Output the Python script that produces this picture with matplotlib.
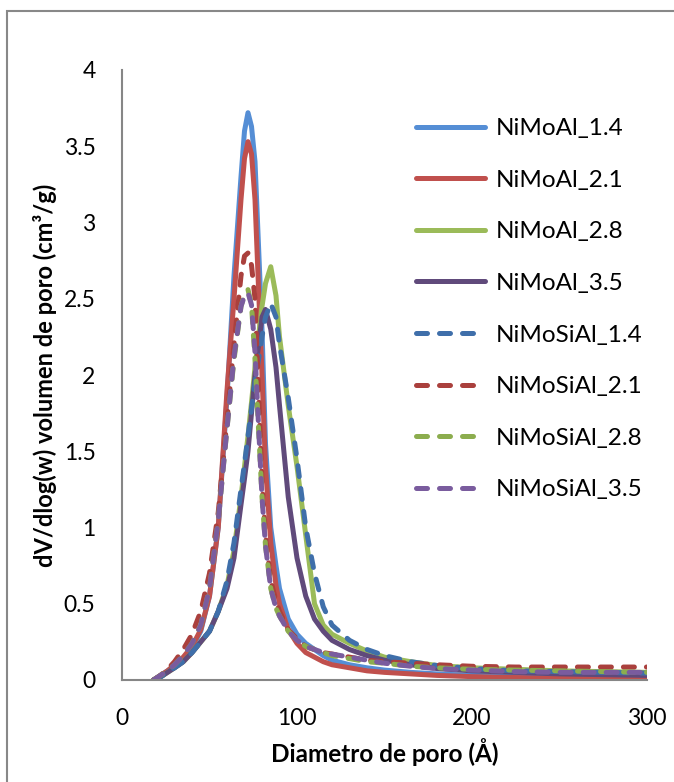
import matplotlib
matplotlib.use("Agg")
import matplotlib.pyplot as plt
from matplotlib.patches import Rectangle

# Diametro de poro (A), shared by all series
diametro = [18, 22, 26, 30, 35, 40, 45, 50, 55, 60, 64, 68, 70, 72, 74, 76, 80, 82, 85, 88, 90, 95,
            100, 105, 110, 115, 120, 130, 140, 150, 165, 180, 200, 225, 250, 275, 300]

nimoal_14 = [0, 0.03, 0.06, 0.09, 0.14, 0.21, 0.32, 0.55, 1.0, 1.85, 2.65, 3.3, 3.6, 3.72, 3.63, 3.4, 2.3, 1.55, 1.0, 0.75, 0.6, 0.4,
             0.3, 0.24, 0.2, 0.16, 0.13, 0.1, 0.08, 0.065, 0.05, 0.04, 0.03, 0.025, 0.02, 0.017, 0.015]
nimoal_21 = [0, 0.03, 0.06, 0.1, 0.15, 0.22, 0.33, 0.55, 1.0, 1.9, 2.5, 3.15, 3.42, 3.53, 3.45, 3.15, 2.0, 1.4, 0.9, 0.62, 0.5, 0.33,
             0.24, 0.18, 0.15, 0.12, 0.1, 0.08, 0.06, 0.05, 0.04, 0.03, 0.022, 0.016, 0.012, 0.01, 0.008]
nimoal_28 = [0, 0.02, 0.05, 0.08, 0.12, 0.18, 0.25, 0.32, 0.45, 0.62, 0.85, 1.2, 1.4, 1.6, 1.82, 2.05, 2.45, 2.6, 2.71, 2.52, 2.25, 1.8,
             1.4, 0.95, 0.5, 0.36, 0.3, 0.24, 0.19, 0.15, 0.12, 0.095, 0.08, 0.07, 0.06, 0.055, 0.05]
nimoal_35 = [0, 0.02, 0.05, 0.08, 0.12, 0.18, 0.25, 0.32, 0.45, 0.6, 0.8, 1.15, 1.32, 1.5, 1.75, 2.0, 2.38, 2.43, 2.3, 2.05, 1.8, 1.2,
             0.8, 0.55, 0.4, 0.32, 0.26, 0.2, 0.16, 0.13, 0.1, 0.075, 0.06, 0.05, 0.04, 0.035, 0.03]
nimosial_14 = [0, 0.02, 0.05, 0.08, 0.12, 0.18, 0.25, 0.32, 0.45, 0.65, 0.9, 1.25, 1.42, 1.6, 1.78, 1.95, 2.25, 2.38, 2.47, 2.38, 2.2, 1.85,
               1.45, 1.0, 0.7, 0.48, 0.36, 0.26, 0.2, 0.16, 0.12, 0.095, 0.075, 0.06, 0.055, 0.05, 0.045]
nimosial_21 = [0, 0.03, 0.07, 0.12, 0.2, 0.3, 0.45, 0.7, 1.1, 1.7, 2.2, 2.65, 2.78, 2.8, 2.72, 2.5, 1.3, 0.95, 0.65, 0.52, 0.45, 0.33,
               0.27, 0.22, 0.2, 0.18, 0.17, 0.15, 0.13, 0.12, 0.11, 0.1, 0.09, 0.085, 0.085, 0.085, 0.085]
nimosial_28 = [0, 0.03, 0.06, 0.1, 0.16, 0.24, 0.36, 0.6, 1.05, 1.65, 2.1, 2.45, 2.53, 2.56, 2.46, 2.1, 1.2, 0.88, 0.6, 0.47, 0.42, 0.32,
               0.26, 0.22, 0.2, 0.18, 0.16, 0.14, 0.12, 0.11, 0.09, 0.08, 0.07, 0.065, 0.06, 0.055, 0.05]
nimosial_35 = [0, 0.03, 0.06, 0.1, 0.16, 0.24, 0.36, 0.6, 1.05, 1.65, 2.12, 2.45, 2.52, 2.54, 2.46, 2.15, 1.2, 0.88, 0.6, 0.47, 0.42, 0.32,
               0.26, 0.22, 0.2, 0.18, 0.17, 0.15, 0.13, 0.11, 0.09, 0.075, 0.065, 0.055, 0.05, 0.05, 0.05]

labels = ["NiMoAl_1.4", "NiMoAl_2.1", "NiMoAl_2.8", "NiMoAl_3.5",
          "NiMoSiAl_1.4", "NiMoSiAl_2.1", "NiMoSiAl_2.8", "NiMoSiAl_3.5"]
series = [nimoal_14, nimoal_21, nimoal_28, nimoal_35,
          nimosial_14, nimosial_21, nimosial_28, nimosial_35]
colors = ["#558ED5", "#C0504D", "#9BBB59", "#604A7B",
          "#3F6FAA", "#AA403D", "#8CAD4E", "#7A5C9E"]
dashed = [False, False, False, False, True, True, True, True]

font = "Lato"
lw = 3.6
axis_gray = "#868686"

fig = plt.figure(figsize=(6.74, 7.82), dpi=100)
ax = fig.add_axes([122 / 674, 102 / 782, 525 / 674, 610 / 782])

for y, lab, c, d in zip(series, labels, colors, dashed):
    if d:
        ax.plot(diametro, y, color=c, lw=lw, label=lab, linestyle=(0, (2.2, 2.4)),
                dash_capstyle="round", dash_joinstyle="round")
    else:
        ax.plot(diametro, y, color=c, lw=lw, label=lab,
                solid_capstyle="round", solid_joinstyle="round")

ax.set_xlim(0, 300)
ax.set_ylim(0, 4)
ax.set_xticks([0, 100, 200, 300])
ax.set_yticks([0, 0.5, 1, 1.5, 2, 2.5, 3, 3.5, 4])
ax.set_yticklabels(["0", "0.5", "1", "1.5", "2", "2.5", "3", "3.5", "4"])
ax.tick_params(length=0, labelsize=16.5)
ax.tick_params(axis="y", pad=19)
ax.tick_params(axis="x", pad=20)
for t in ax.get_xticklabels() + ax.get_yticklabels():
    t.set_fontfamily(font)

for s in ["top", "right"]:
    ax.spines[s].set_visible(False)
for s in ["left", "bottom"]:
    ax.spines[s].set_color(axis_gray)
    ax.spines[s].set_linewidth(1.5)

ax.set_xlabel("Diametro de poro (Å)", fontsize=17.5, fontweight="bold", family=font)
ax.set_ylabel("dV/dlog(w) volumen de poro (cm³/g)", fontsize=17, fontweight="bold", family=font)
ax.xaxis.set_label_coords(0.5, (680 - 738) / 610)
ax.yaxis.set_label_coords((57 - 122) / 525, 0.5)

leg = ax.legend(loc="upper left", bbox_to_anchor=(294 / 525, 1 - 48 / 610), frameon=False,
                prop={"family": font, "size": 17.5}, handlelength=2.85, handletextpad=0.42,
                labelspacing=1.26, borderaxespad=0, borderpad=0)

# outer chart frame
fig.patches.append(Rectangle((6.5 / 674, -0.1), 1.2, 1 - 11.5 / 782 + 0.1,
                             transform=fig.transFigure, fill=False, ec="#888888", lw=1.5))

fig.savefig("out.png", dpi=100)
